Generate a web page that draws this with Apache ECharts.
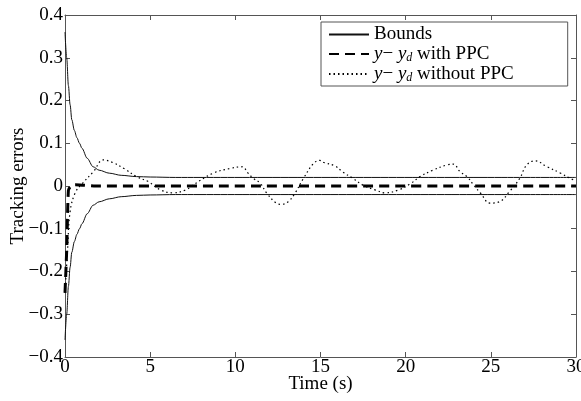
<!DOCTYPE html>
<html>
<head>
<meta charset="utf-8">
<script src="https://cdn.jsdelivr.net/npm/echarts@6/dist/echarts.min.js"></script>
<style>
  html, body { margin: 0; padding: 0; background: #fff; }
  #chart { width: 581px; height: 401px; }
</style>
</head>
<body>
<div id="chart"></div>
<script>
// bounds
const boundT     = [0, 0.1, 0.2, 0.3, 0.4, 0.55, 0.7, 0.85, 1.0, 1.3, 1.65, 2.0, 2.6, 3.3, 4.2, 5, 6.5, 30];
const boundUpper = [0.36, 0.30, 0.235, 0.19, 0.155, 0.13, 0.113, 0.10, 0.088, 0.065, 0.045, 0.037, 0.03, 0.025, 0.022, 0.021, 0.02, 0.02];
const boundLower = boundUpper.map(v => -v);

// y - yd with PPC
const ppcT   = [0, 0.1, 0.2, 0.35, 0.6, 1.0, 2.0, 30];
const ppcErr = [-0.25, -0.15, -0.01, 0.0, 0.003, 0.002, 0, 0];

// y - yd without PPC
const noPpcT   = [0, 0.15, 0.3, 0.6, 1.0, 1.66, 2.25, 2.8, 3.5, 4.2, 4.9, 5.6, 6.35, 7.1, 7.5, 8.7, 9.7, 10.4, 10.75, 11.05, 11.45, 11.85, 12.4, 12.7, 13.1, 13.5, 14.0, 14.6, 14.95, 15.2, 15.85, 16.3, 16.9, 17.5, 18.2, 18.8, 19.6, 20.3, 20.85, 21.6, 22.4, 22.8, 23.2, 23.6, 24.0, 24.4, 24.95, 25.5, 26.1, 26.7, 27.1, 27.6, 28.3, 29.1, 29.65, 30];
const noPpcErr = [-0.25, -0.15, -0.06, -0.016, 0.005, 0.033, 0.061, 0.055, 0.04, 0.022, 0.01, -0.009, -0.016, -0.009, 0.002, 0.03, 0.041, 0.045, 0.03, 0.018, 0.007, -0.017, -0.04, -0.043, -0.037, -0.017, 0.018, 0.053, 0.06, 0.055, 0.047, 0.033, 0.018, 0.002, -0.009, -0.016, -0.009, 0.006, 0.022, 0.037, 0.049, 0.051, 0.033, 0.022, 0.002, -0.017, -0.04, -0.037, -0.013, 0.018, 0.049, 0.059, 0.045, 0.03, 0.018, 0.012];

const pairs = (t, v) => t.map((x, i) => [x, v[i]]);

const font = "'Liberation Serif', 'Times New Roman', serif";
const fs = 19;
const axisCol = '#555';

const chart = echarts.init(document.getElementById('chart'));

const baseX = {
  type: 'value', min: 0, max: 30, interval: 5,
  axisLine: { show: true, onZero: false, lineStyle: { color: axisCol, width: 1 } },
  axisTick: { show: true, inside: true, length: 5, lineStyle: { color: axisCol } },
  splitLine: { show: false }
};
const baseY = {
  type: 'value', min: -0.4, max: 0.4, interval: 0.1,
  axisLine: { show: true, onZero: false, lineStyle: { color: axisCol, width: 1 } },
  axisTick: { show: true, inside: true, length: 5, lineStyle: { color: axisCol } },
  splitLine: { show: false }
};

const legendRich = {
  i: { fontFamily: font, fontSize: fs, fontStyle: 'italic', color: '#000', lineHeight: 20 },
  sub: { fontFamily: font, fontSize: 12, fontStyle: 'italic', color: '#000', lineHeight: 20, padding: [8, 0, 0, 0] },
  n: { fontFamily: font, fontSize: fs, color: '#000', lineHeight: 20 }
};

chart.setOption({
  animation: false,
  backgroundColor: '#fff',
  grid: { left: 65, right: 5, top: 15, bottom: 44, outerBoundsMode: 'none' },
  textStyle: { fontFamily: font },
  legend: {
    orient: 'vertical',
    left: 321, top: 22,
    padding: [3, 54, 2, 7],
    itemGap: 0,
    itemWidth: 40, itemHeight: 14,
    borderColor: axisCol, borderWidth: 1, borderRadius: 0,
    backgroundColor: '#fff',
    itemStyle: { opacity: 0 },
    data: ['Bounds', 'ppc', 'noppc'],
    formatter: function (name) {
      if (name === 'Bounds') return '{n|Bounds}';
      if (name === 'ppc') return '{i|y}{n|− }{i|y}{sub|d}{n| with PPC}';
      return '{i|y}{n|− }{i|y}{sub|d}{n| without PPC}';
    },
    textStyle: { rich: legendRich }
  },
  xAxis: [
    Object.assign({}, baseX, {
      position: 'bottom',
      name: 'Time (s)', nameLocation: 'middle', nameGap: 18, nameMoveOverlap: false,
      nameTextStyle: { fontFamily: font, fontSize: fs, color: '#000' },
      axisLabel: { fontFamily: font, fontSize: fs, color: '#000', margin: 1 }
    }),
    Object.assign({}, baseX, { position: 'top', axisLabel: { show: false } })
  ],
  yAxis: [
    Object.assign({}, baseY, {
      position: 'left',
      name: 'Tracking errors', nameLocation: 'middle', nameGap: 37, nameMoveOverlap: false,
      nameTextStyle: { fontFamily: font, fontSize: fs, color: '#000' },
      axisLabel: {
        fontFamily: font, fontSize: fs, color: '#000', margin: 2,
        formatter: v => (Math.abs(v) < 1e-9 ? '0' : v.toFixed(1).replace('-', '−'))
      }
    }),
    Object.assign({}, baseY, { position: 'right', axisLabel: { show: false } })
  ],
  series: [
    {
      name: 'Bounds', type: 'line', data: pairs(boundT, boundUpper),
      showSymbol: false, symbol: 'none', smooth: 0.3, smoothMonotone: 'x',
      lineStyle: { color: '#111', width: 1 }, itemStyle: { color: '#111' }
    },
    {
      name: 'Bounds', type: 'line', data: pairs(boundT, boundLower),
      showSymbol: false, symbol: 'none', smooth: 0.3, smoothMonotone: 'x',
      lineStyle: { color: '#111', width: 1 }, itemStyle: { color: '#111' }
    },
    {
      name: 'noppc', type: 'line', data: pairs(noPpcT, noPpcErr),
      showSymbol: false, symbol: 'none', smooth: 0.4,
      lineStyle: { color: '#000', width: 1.2, type: [1.5, 3] }, itemStyle: { color: '#000' }
    },
    {
      name: 'ppc', type: 'line', data: pairs(ppcT, ppcErr),
      showSymbol: false, symbol: 'none', smooth: 0.2,
      lineStyle: { color: '#000', width: 3, type: [10, 6] }, itemStyle: { color: '#000' }
    }
  ]
});
</script>
</body>
</html>
